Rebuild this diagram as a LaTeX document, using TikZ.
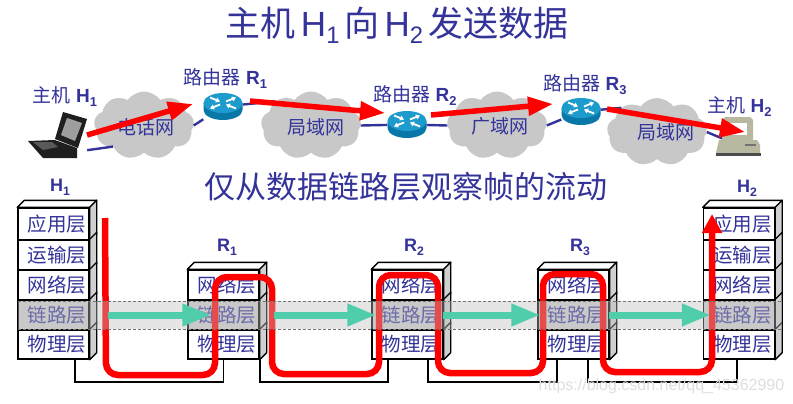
\documentclass[tikz,border=0pt]{standalone}
\usepackage{fontspec}
\setmainfont{Liberation Sans}
\newfontfamily\cjk{Noto Sans CJK SC}
\usetikzlibrary{arrows.meta}
\usetikzlibrary{calc}
\usetikzlibrary{shapes.symbols}
\definecolor{netblue}{RGB}{51,51,153}
\definecolor{cloudgray}{RGB}{200,200,200}
\definecolor{sidegray}{RGB}{208,208,208}
\definecolor{flowgreen}{RGB}{80,205,170}
\definecolor{routertop}{RGB}{30,155,205}
\definecolor{routerside}{RGB}{8,120,168}
\definecolor{hosttan}{RGB}{184,184,160}
\newcommand{\subidx}[1]{\raisebox{-.4ex}{\scalebox{.68}{#1}}}
\newcommand{\fsize}[1]{\fontsize{#1}{#1}\selectfont}
\newcommand{\layerside}[1]{
  \draw[stackline, fill = sidegray] (#1.north east) -- ++(7, -7) -- ($(#1.south east) + (7, -7)$) -- (#1.south east) -- cycle;
}
\newcommand{\layertop}[1]{
  \draw[stackline, fill = white] (#1.north west) -- ++(7, -7) -- ($(#1.north east) + (7, -7)$) -- (#1.north east) -- cycle;
}
\tikzset{
  stackline/.style = {black, line width = 1.4pt, line join = round},
  layerbox/.style = {draw = black, line width = 1.4pt, fill = white, text = netblue, inner sep = 0pt,
    minimum width = 71pt, minimum height = 30pt, font = \cjk\fsize{19.5}, execute at begin node = {\hspace{7pt}}},
  linkbox/.style = {layerbox, fill = sidegray},
  netcloud/.style = {shape = cloud, cloud puffs = 9, cloud puff arc = 110, cloud ignores aspect, fill = cloudgray,
    minimum width = 100pt, minimum height = 68pt, inner sep = 0pt},
  cloudlabel/.style = {text = netblue, inner sep = 0pt, font = \cjk\fsize{19}},
  netlabel/.style = {text = netblue, font = \fsize{19}, inner sep = 0pt},
  stacklabel/.style = {text = netblue, font = \bfseries\fsize{18}, inner sep = 0pt},
  netlink/.style = {netblue, line width = 2.4pt},
  cable/.style = {black, line width = 1.6pt},
  redarrow/.style = {red, line width = 5.5pt, -{Triangle[length = 25pt, width = 18pt]}},
  greenarrow/.style = {flowgreen, line width = 7pt, -{Triangle[length = 29pt, width = 21pt]}},
  devicebox/.style = {inner sep = 0pt},
  pics/router/.style = {
    code = {
      \begin{scope}[y = 1pt]
        \fill[routerside] (-19.5, 3.5) -- (-19.5, -3.5) arc[start angle = 180, end angle = 360, x radius = 19.5pt, y radius = 10pt] -- (19.5, 3.5) -- cycle;
        \fill[routertop] (0, 3.5) ellipse[x radius = 19.5pt, y radius = 10pt];
        \draw[white, line width = 1.8pt, -{Triangle[length = 4pt, width = 5pt]}] (-13, 9) -- (-3, 5);
        \draw[white, line width = 1.8pt, -{Triangle[length = 4pt, width = 5pt]}] (13, -2) -- (3, 2);
        \draw[white, line width = 1.8pt, -{Triangle[length = 4pt, width = 5pt]}] (-3, 2) -- (-13, -2);
        \draw[white, line width = 1.8pt, -{Triangle[length = 4pt, width = 5pt]}] (3, 5) -- (13, 9);
      \end{scope}
    }
  }
}
\begin{document}
\begin{tikzpicture}[x = 1pt, y = -1pt]

	\fill[white] (0, 0) rectangle (793, 404);
	\useasboundingbox (0, 0) rectangle (793, 404);

	% titles
	\node[text = netblue, inner sep = 0pt, font = \fsize{35}] (title) at (397, 25) {{\cjk 主机}\hspace{5pt}H\subidx{1}\hspace{5pt}{\cjk 向}\hspace{5pt}H\subidx{2}\hspace{5pt}{\cjk 发送数据}};
	\node[text = netblue, inner sep = 0pt, font = \cjk\fsize{31}] (subtitle) at (405.5, 187) {仅从数据链路层观察帧的流动};

	% network
	\node[devicebox, minimum width = 59pt, minimum height = 46pt] (laptop) at (57.5, 135) {};
	\node[devicebox, minimum width = 45pt, minimum height = 40pt] (deskhost) at (738, 137) {};
	\node[devicebox, minimum width = 39pt, minimum height = 27pt] (routerA) at (223, 106.5) {};
	\node[devicebox, minimum width = 39pt, minimum height = 25pt] (routerB) at (407, 124.5) {};
	\node[devicebox, minimum width = 39pt, minimum height = 25pt] (routerC) at (581, 111.5) {};

	\node[netcloud] (cloudA) at (144, 125.5) {};
	\node[netcloud] (cloudB) at (311, 125.5) {};
	\node[netcloud] (cloudC) at (497, 125.5) {};
	\node[netcloud] (cloudD) at (657, 132) {};

	\draw[netlink] ([yshift = 8pt]laptop.south east) -- (cloudA.south west);
	\draw[netlink] (cloudA.east) -- (routerA);
	\draw[netlink] (routerA) -- (cloudB.north west);
	\draw[netlink] (cloudB.east) -- (routerB);
	\draw[netlink] (routerB) -- (cloudC.west);
	\draw[netlink] (cloudC.east) -- (routerC);
	\draw[netlink] (routerC) -- (cloudD.north west);
	\draw[netlink] (cloudD.east) -- ([yshift = -8pt]deskhost.center);

	\node[cloudlabel] (cloudAtext) at (146, 127) {电话网};
	\node[cloudlabel] (cloudBtext) at (316, 127) {局域网};
	\node[cloudlabel] (cloudCtext) at (500, 126) {广域网};
	\node[cloudlabel] (cloudDtext) at (666, 132) {局域网};

	\pic at (routerA) {router};
	\pic at (routerB) {router};
	\pic at (routerC) {router};

	% laptop
	\fill[black!88] (28, 141) -- (55, 140) -- (77, 148) -- (77, 158) -- (43, 158) -- cycle;
	\fill[black!65] (33, 142) -- (52, 142) -- (58, 147) -- (43, 150) -- cycle;
	\fill[black!88] (55, 139) -- (63, 112) -- (87, 119) -- (78, 148) -- cycle;
	\fill[black!38] (61, 135) -- (67, 118) -- (82, 123) -- (75, 141) -- cycle;

	% desktop
	\fill[hosttan] (722, 120) -- (725, 117) -- (750, 117) -- (753, 120) -- (753, 140) -- (722, 140) -- cycle;
	\fill[white] (729, 123) rectangle (747, 135);
	\fill[hosttan] (719, 140) -- (757, 140) -- (760, 145) -- (760, 153) -- (716, 153) -- cycle;
	\fill[black!55] (745, 144) rectangle (756, 146);
	\fill[black!70] (716, 153) rectangle (761, 156);

	\node[netlabel] (hostAlabel) at (65, 97) {{\cjk 主机} \textbf{H\subidx{1}}};
	\node[netlabel] (routerAlabel) at (225.5, 79) {{\cjk 路由器} \textbf{R\subidx{1}}};
	\node[netlabel] (routerBlabel) at (415, 96) {{\cjk 路由器} \textbf{R\subidx{2}}};
	\node[netlabel] (routerClabel) at (585, 85) {{\cjk 路由器} \textbf{R\subidx{3}}};
	\node[netlabel] (hostBlabel) at (739.5, 107) {{\cjk 主机} \textbf{H\subidx{2}}};

	\coordinate (sendA) at (87, 135);
	\coordinate (tipA) at (193, 104);
	\coordinate (sendB) at (250, 101);
	\coordinate (tipB) at (385, 113);
	\coordinate (sendC) at (431, 115);
	\coordinate (tipC) at (553, 104);
	\coordinate (sendD) at (607, 109);
	\coordinate (tipD) at (745, 132);
	\draw[redarrow] (sendA) -- (tipA);
	\draw[redarrow] (sendB) -- (tipB);
	\draw[redarrow] (sendC) -- (tipC);
	\draw[redarrow] (sendD) -- (tipD);

	% stacks
	\node[stacklabel] (stackHA) at (60, 187) {H\subidx{1}};
	\node[stacklabel] (stackRA) at (227, 247) {R\subidx{1}};
	\node[stacklabel] (stackRB) at (414, 247) {R\subidx{2}};
	\node[stacklabel] (stackRC) at (580, 247) {R\subidx{3}};
	\node[stacklabel] (stackHB) at (747, 188) {H\subidx{2}};

	\node[layerbox, minimum height = 32pt] (haApp) at (53.5, 224) {应用层};
	\node[layerbox] (haTrans) at (53.5, 255) {运输层};
	\node[layerbox] (haNet) at (53.5, 285) {网络层};
	\node[linkbox] (haLink) at (53.5, 315) {链路层};
	\node[layerbox, minimum height = 29pt] (haPhy) at (53.5, 344.5) {物理层};

	\node[layerbox] (raNet) at (223.5, 285) {网络层};
	\node[linkbox] (raLink) at (223.5, 315) {链路层};
	\node[layerbox, minimum height = 29pt] (raPhy) at (223.5, 344.5) {物理层};

	\node[layerbox] (rbNet) at (407.5, 285) {网络层};
	\node[linkbox] (rbLink) at (407.5, 315) {链路层};
	\node[layerbox, minimum height = 29pt] (rbPhy) at (407.5, 344.5) {物理层};

	\node[layerbox] (rcNet) at (573.5, 285) {网络层};
	\node[linkbox] (rcLink) at (573.5, 315) {链路层};
	\node[layerbox, minimum height = 29pt] (rcPhy) at (573.5, 344.5) {物理层};

	\node[layerbox, minimum height = 32pt] (hbApp) at (739, 224) {应用层};
	\node[layerbox] (hbTrans) at (739, 255) {运输层};
	\node[layerbox] (hbNet) at (739, 285) {网络层};
	\node[linkbox] (hbLink) at (739, 315) {链路层};
	\node[layerbox, minimum height = 29pt] (hbPhy) at (739, 344.5) {物理层};

	\layertop{haApp} \layerside{haApp} \layerside{haTrans} \layerside{haNet} \layerside{haLink} \layerside{haPhy}
	\layertop{raNet} \layerside{raNet} \layerside{raLink} \layerside{raPhy}
	\layertop{rbNet} \layerside{rbNet} \layerside{rbLink} \layerside{rbPhy}
	\layertop{rcNet} \layerside{rcNet} \layerside{rcLink} \layerside{rcPhy}
	\layertop{hbApp} \layerside{hbApp} \layerside{hbTrans} \layerside{hbNet} \layerside{hbLink} \layerside{hbPhy}

	% cables
	\draw[cable] ([xshift = 21.5pt]haPhy.south) -- ++(0, 22) -| (raPhy.south);
	\draw[cable] (raPhy.south east) -- ++(0, 22) -| ([xshift = -19.5pt]rbPhy.south);
	\draw[cable] ([xshift = 20.5pt]rbPhy.south) -- ++(0, 22) -| ([xshift = -16.5pt]rcPhy.south);
	\draw[cable] ([xshift = 14.5pt]rcPhy.south) -- ++(0, 22) -| ([xshift = -2pt]hbPhy.south);

	% frame flow
	\coordinate (flowstart) at (105, 218);
	\coordinate (flowend) at (712, 214);
	\draw[red, line width = 6.5pt, rounded corners = 12pt, -{Triangle[length = 19pt, width = 19pt]}]
		(flowstart) -- (106, 375) -- (215, 375) -- (215, 277) -- (272, 277) -- (272, 374)
		-- (379, 374) -- (379, 275) -- (438, 275) -- (438, 373) -- (543, 373) -- (543, 274)
		-- (603, 274) -- (603, 372) -- (712, 372) -- (flowend);

	% link layer band
	\fill[gray!50, opacity = 0.4] (18, 301) rectangle (782, 329);
	\draw[black!55, line width = 0.6pt, dash pattern = on 3pt off 2pt] (18, 301) -- (782, 301);
	\draw[black!55, line width = 0.6pt, dash pattern = on 3pt off 2pt] (18, 329) -- (782, 329);

	\draw[greenarrow] ([xshift = 18pt]haLink.east) -- ([xshift = 24pt]raLink.west);
	\draw[greenarrow] ([xshift = 14pt]raLink.east) -- ([xshift = 5pt]rbLink.west);
	\draw[greenarrow] ([xshift = -1pt]rbLink.east) -- ([xshift = 3pt]rcLink.west);
	\draw[greenarrow] ([xshift = -1pt]rcLink.east) -- ([xshift = 8pt]hbLink.west);

	% watermark
	\node[text = black!13, inner sep = 0pt, font = \fsize{16}] (markA) at (661.5, 386) {https://blog.csdn.net/qq\_45362990};

\end{tikzpicture}
\end{document}
